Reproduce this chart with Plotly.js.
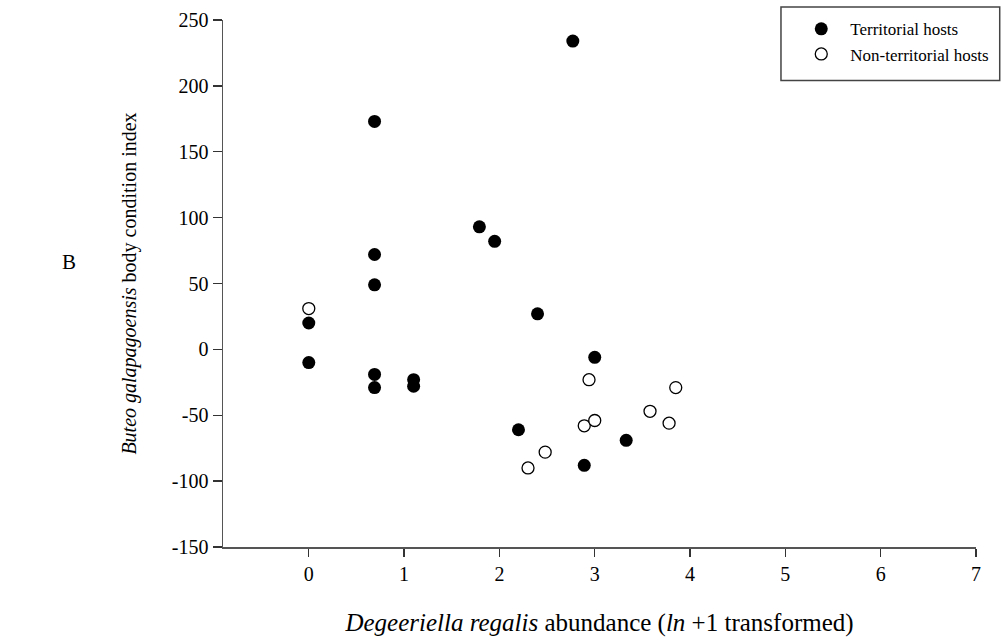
<!DOCTYPE html>
<html>
<head>
<meta charset="utf-8">
<script src="https://cdn.plot.ly/plotly-3.0.1.min.js"></script>
<style>html,body{margin:0;padding:0;background:#fff;}#chart{width:1002px;height:640px;}</style>
</head>
<body>
<div id="chart"></div>
<script>
// Territorial hosts (filled circles)
var territorialX = [0, 0, 0.69, 0.69, 0.69, 0.69, 0.69, 1.10, 1.10, 1.79, 1.95, 2.20, 2.40, 2.77, 2.89, 3.00, 3.33];
var territorialY = [20, -10, 173, 72, 49, -19, -29, -23, -28, 93, 82, -61, 27, 234, -88, -6, -69];
// Non-territorial hosts (open circles)
var nonTerritorialX = [0, 2.30, 2.48, 2.89, 2.94, 3.00, 3.58, 3.78, 3.85];
var nonTerritorialY = [31, -90, -78, -58, -23, -54, -47, -56, -29];
// Axis ticks
var xTicks = [0, 1, 2, 3, 4, 5, 6, 7];
var yTicks = [-150, -100, -50, 0, 50, 100, 150, 200, 250];

var font = '"Liberation Serif", "Times New Roman", serif';

var traces = [
  {
    x: territorialX, y: territorialY, type: 'scatter', mode: 'markers',
    name: 'Territorial hosts',
    marker: {symbol: 'circle', size: 13, color: '#000', line: {color: '#000', width: 0}}
  },
  {
    x: nonTerritorialX, y: nonTerritorialY, type: 'scatter', mode: 'markers',
    name: 'Non-territorial hosts',
    marker: {symbol: 'circle', size: 12, color: '#fff', line: {color: '#000', width: 1.3}}
  }
];

var layout = {
  width: 1002, height: 640,
  margin: {l: 223, r: 26, t: 20, b: 93, autoexpand: false},
  paper_bgcolor: '#fff', plot_bgcolor: '#fff',
  font: {family: font, color: '#000', size: 19},
  showlegend: true,
  legend: {
    x: 0.756, y: 1.0165, xanchor: 'left', yanchor: 'top',
    bgcolor: 'rgba(0,0,0,0)', borderwidth: 0,
    font: {family: font, size: 17, color: '#000'},
    itemwidth: 48,
    tracegroupgap: 0
  },
  xaxis: {
    range: [-0.9, 7],
    tickvals: xTicks, ticktext: xTicks.map(String),
    showgrid: false, zeroline: false,
    showline: true, linecolor: '#555', linewidth: 1.5,
    ticks: 'outside', ticklen: 8, tickwidth: 1.3, tickcolor: '#333',
    tickfont: {family: font, size: 20},
    title: {
      text: '<i>Degeeriella regalis</i> abundance (<i>ln</i> +1 transformed)',
      font: {family: font, size: 25}, standoff: 30
    }
  },
  yaxis: {
    range: [-150, 250],
    tickvals: yTicks, ticktext: yTicks.map(String),
    showgrid: false, zeroline: false,
    showline: true, linecolor: '#555', linewidth: 1.5,
    ticks: 'outside', ticklen: 9, tickwidth: 1.3, tickcolor: '#333',
    tickfont: {family: font, size: 20},
    title: {
      text: '<i>Buteo galapagoensis</i> body condition index',
      font: {family: font, size: 20}, standoff: 30
    }
  },
  shapes: [
    {type: 'rect', xref: 'paper', yref: 'paper',
     x0: 0.741, x1: 1.0315, y0: 0.885, y1: 1.0247,
     line: {color: '#444', width: 1.5}, fillcolor: 'rgba(0,0,0,0)'}
  ],
  annotations: [
    {text: 'B', xref: 'paper', yref: 'paper', x: -0.2165, y: 0.541,
     showarrow: false, font: {family: font, size: 21, color: '#000'}}
  ]
};

Plotly.newPlot('chart', traces, layout, {displayModeBar: false, staticPlot: true});
</script>
</body>
</html>
